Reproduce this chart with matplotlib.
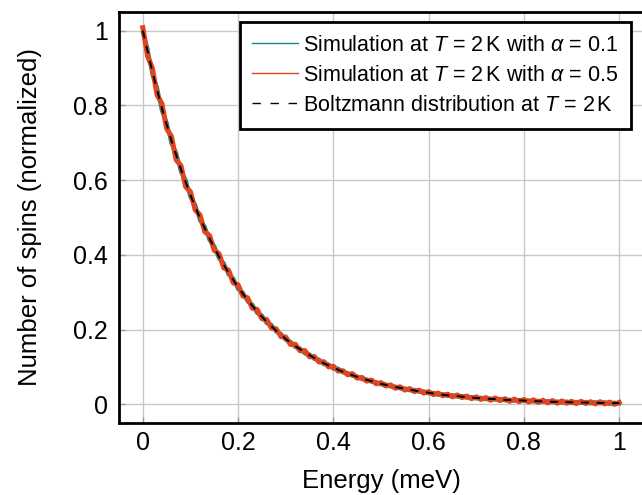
import numpy as np
import matplotlib
matplotlib.use("Agg")
import matplotlib.pyplot as plt
from matplotlib.ticker import FuncFormatter

plt.rcParams['font.family'] = ['Liberation Sans', 'DejaVu Sans']
plt.rcParams['mathtext.fontset'] = 'custom'
plt.rcParams['mathtext.it'] = 'Liberation Sans:italic'
plt.rcParams['mathtext.rm'] = 'Liberation Sans'

# energy bins (meV) for the simulated histograms
energy_sim = np.linspace(0, 1, 101)
# normalized spin counts, alpha = 0.1
spins_a01 = [0.994, 0.952, 0.882, 0.848, 0.785, 0.755, 0.698, 0.674, 0.622, 0.601,
             0.554, 0.534, 0.492, 0.476, 0.439, 0.424, 0.390, 0.378, 0.347, 0.337,
             0.308, 0.300, 0.275, 0.267, 0.244, 0.238, 0.217, 0.213, 0.194, 0.189,
             0.172, 0.168, 0.153, 0.150, 0.136, 0.134, 0.121, 0.120, 0.107, 0.107,
             0.095, 0.096, 0.085, 0.084, 0.076, 0.075, 0.067, 0.067, 0.060, 0.060,
             0.053, 0.054, 0.047, 0.048, 0.042, 0.043, 0.037, 0.039, 0.033, 0.035,
             0.029, 0.031, 0.025, 0.028, 0.022, 0.025, 0.020, 0.023, 0.017, 0.020,
             0.015, 0.018, 0.013, 0.016, 0.012, 0.015, 0.010, 0.013, 0.009, 0.012,
             0.008, 0.011, 0.007, 0.010, 0.006, 0.009, 0.005, 0.008, 0.004, 0.008,
             0.003, 0.007, 0.003, 0.007, 0.002, 0.006, 0.002, 0.006, 0.001, 0.005,
             0.002]
# normalized spin counts, alpha = 0.5
spins_a05 = [1.008, 0.932, 0.900, 0.828, 0.805, 0.738, 0.717, 0.654, 0.639, 0.582,
             0.569, 0.520, 0.507, 0.462, 0.452, 0.412, 0.403, 0.365, 0.359, 0.325,
             0.320, 0.290, 0.285, 0.257, 0.254, 0.229, 0.227, 0.204, 0.202, 0.181,
             0.180, 0.160, 0.161, 0.143, 0.144, 0.127, 0.128, 0.113, 0.114, 0.100,
             0.102, 0.089, 0.090, 0.079, 0.082, 0.070, 0.072, 0.062, 0.065, 0.055,
             0.058, 0.049, 0.052, 0.043, 0.047, 0.038, 0.042, 0.034, 0.038, 0.030,
             0.034, 0.026, 0.030, 0.023, 0.027, 0.020, 0.025, 0.018, 0.022, 0.015,
             0.020, 0.013, 0.018, 0.011, 0.017, 0.010, 0.015, 0.008, 0.014, 0.007,
             0.013, 0.006, 0.012, 0.005, 0.011, 0.004, 0.010, 0.003, 0.009, 0.003,
             0.008, 0.002, 0.008, 0.002, 0.007, 0.001, 0.007, 0.001, 0.006, 0.000,
             0.005]

# Boltzmann reference curve at T = 2 K
energy_bz = np.linspace(0, 1, 51)
spins_bz = [1.000, 0.890, 0.793, 0.706, 0.629, 0.560, 0.498, 0.444, 0.395, 0.352,
            0.313, 0.279, 0.248, 0.221, 0.197, 0.175, 0.156, 0.139, 0.124, 0.110,
            0.098, 0.087, 0.078, 0.069, 0.062, 0.055, 0.049, 0.044, 0.039, 0.035,
            0.031, 0.027, 0.024, 0.022, 0.019, 0.017, 0.015, 0.014, 0.012, 0.011,
            0.010, 0.0086, 0.0077, 0.0068, 0.0061, 0.0054, 0.0048, 0.0043, 0.0038,
            0.0034, 0.0030]

ticks = [0, 0.2, 0.4, 0.6, 0.8, 1]

fig = plt.figure(figsize=(6.42, 4.95), dpi=100)
ax = fig.add_axes([119 / 642, 72 / 495, 524 / 642, 411 / 495])

ax.plot(energy_sim, spins_a01, color='#138a86', lw=2.8,
        label=r'Simulation at $T$ = 2$\,$K with $\alpha$ = 0.1')
ax.plot(energy_sim, spins_a05, color='#e1441f', lw=3.6,
        label=r'Simulation at $T$ = 2$\,$K with $\alpha$ = 0.5')
ax.plot(energy_bz, spins_bz, color='black', lw=1.4, dashes=(4, 4),
        label=r'Boltzmann distribution at $T$ = 2$\,$K')

ax.set_xlim(-0.05, 1.05)
ax.set_ylim(-0.05, 1.05)
ax.set_xticks(ticks)
ax.set_yticks(ticks)
fmt = FuncFormatter(lambda v, p: '%g' % v)
ax.xaxis.set_major_formatter(fmt)
ax.yaxis.set_major_formatter(fmt)
ax.tick_params(direction='in', length=4, width=1, color='#999999',
               labelsize=18, pad=6)
ax.tick_params(axis='y', pad=8)
ax.grid(True, color='#c8c8c8', lw=1.0)
ax.set_axisbelow(True)
for s in ax.spines.values():
    s.set_linewidth(2)
    s.set_color('black')

ax.set_xlabel('Energy (meV)', fontsize=18.5, labelpad=10)
ax.set_ylabel('Number of spins (normalized)', fontsize=18.5, labelpad=22)

leg = ax.legend(loc='upper right', bbox_to_anchor=(631 / 642, 1 - 22 / 495),
                bbox_transform=fig.transFigure, borderaxespad=0,
                fontsize=15.5, frameon=True, fancybox=False, framealpha=1,
                handlelength=2.1, handletextpad=0.25, labelspacing=0.42,
                borderpad=0.6)
leg.get_frame().set_edgecolor('black')
leg.get_frame().set_linewidth(2)
for ln in leg.get_lines():
    ln.set_linewidth(1.0)
leg.get_lines()[2].set_dashes((6, 7))

fig.savefig('out.png', dpi=100)
